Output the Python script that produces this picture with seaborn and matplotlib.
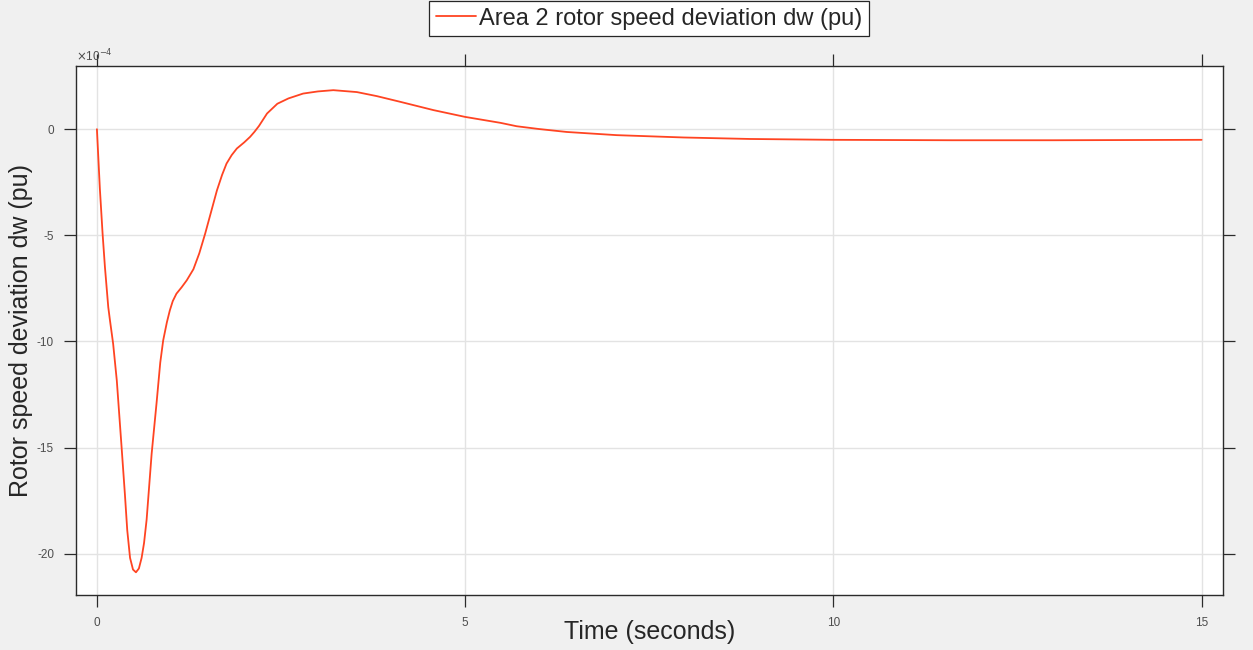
import matplotlib
matplotlib.use("Agg")
import matplotlib.pyplot as plt
import seaborn as sns
import pandas as pd

# Area 2 rotor speed deviation, values in units of 1e-4 pu
time_s = [0.0, 0.04, 0.077, 0.109, 0.154, 0.177, 0.22, 0.27, 0.335, 0.38, 0.412, 0.45,
          0.49, 0.53, 0.57, 0.607, 0.64, 0.675, 0.743, 0.81, 0.86, 0.9, 0.95, 0.99,
          1.03, 1.08, 1.15, 1.22, 1.31, 1.39, 1.47, 1.55, 1.63, 1.7, 1.76, 1.83,
          1.9, 2.0, 2.08, 2.14, 2.2, 2.31, 2.45, 2.6, 2.8, 3.0, 3.21, 3.53, 3.8,
          4.12, 4.57, 5.0, 5.48, 5.7, 6.0, 6.38, 7.06, 7.97, 8.87, 10.0,
          11.6, 13.0, 15.0]
dw_e4 = [0.0, -2.8, -4.92, -6.5, -8.38, -9.0, -10.1, -11.84, -14.98, -17.2, -18.9, -20.2,
         -20.75, -20.88, -20.7, -20.2, -19.5, -18.4, -15.3, -12.9, -11.0, -9.95, -9.1, -8.54,
         -8.1, -7.75, -7.45, -7.12, -6.6, -5.85, -4.92, -3.9, -2.88, -2.15, -1.62, -1.22,
         -0.91, -0.62, -0.36, -0.12, 0.15, 0.74, 1.2, 1.45, 1.68, 1.78, 1.84, 1.75, 1.56,
         1.29, 0.9, 0.58, 0.30, 0.14, 0.01, -0.13, -0.28, -0.39, -0.46, -0.5,
         -0.52, -0.52, -0.5]

x_ticks = [0, 5, 10, 15]
y_ticks = [-20, -15, -10, -5, 0]
series_label = "Area 2 rotor speed deviation dw (pu)"

sns.set_theme(style="whitegrid")
plt.rcParams["font.family"] = ["Liberation Sans", "DejaVu Sans"]

df = pd.DataFrame({"t": time_s, "dw": dw_e4})

fig = plt.figure(figsize=(12.53, 6.5), dpi=100, facecolor="#f0f0f0")
ax = fig.add_axes([0.0603, 0.0846, 0.9157, 0.8139])
ax.set_facecolor("white")

sns.lineplot(data=df, x="t", y="dw", ax=ax, color="#ff4422", linewidth=1.3,
             label=series_label, sort=False)

ax.set_xlim(-0.29, 15.29)
ax.set_ylim(-21.95, 2.98)
ax.set_xticks(x_ticks)
ax.set_yticks(y_ticks)
ax.set_xticklabels([str(v) for v in x_ticks])
ax.set_yticklabels([str(v) for v in y_ticks])

ax.grid(True, color="#e3e3e3", linewidth=1.0)
for sp in ax.spines.values():
    sp.set_visible(True)
    sp.set_color("#2b2b2b")
    sp.set_linewidth(1.0)

ax.tick_params(axis="both", which="major", direction="out", length=8.5, width=0.9,
               color="#2b2b2b", labelsize=8.5, labelcolor="#4d4d4d",
               top=True, right=True, bottom=True, left=True,
               labeltop=False, labelright=False)
ax.tick_params(axis="x", pad=7)
ax.tick_params(axis="y", pad=7)

ax.set_xlabel("Time (seconds)", fontsize=18, color="#262626", labelpad=-6)
ax.set_ylabel("Rotor speed deviation dw (pu)", fontsize=18, color="#262626", labelpad=3)

ax.text(0.0, 1.003, r"$\times$10$^{-4}$", transform=ax.transAxes, fontsize=8.5,
        color="#4d4d4d", ha="left", va="bottom")

leg = ax.legend(loc="lower center", bbox_to_anchor=(0.5, 1.056), fontsize=17,
                frameon=True, fancybox=False, handlelength=1.7, handletextpad=0.15,
                borderpad=0.28, borderaxespad=0)
leg.get_frame().set_edgecolor("#262626")
leg.get_frame().set_linewidth(0.9)
leg.get_frame().set_facecolor("white")
leg.get_frame().set_alpha(1.0)

fig.savefig("out.png", dpi=100, facecolor=fig.get_facecolor())
